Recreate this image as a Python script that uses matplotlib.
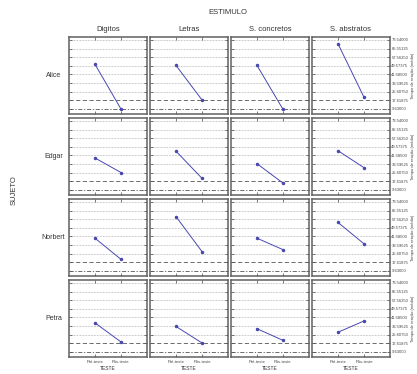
import matplotlib
matplotlib.use("Agg")
import matplotlib.pyplot as plt
import numpy as np

plt.rcParams["font.family"] = ["Liberation Sans", "DejaVu Sans"]

subjects = ["Alice", "Edgar", "Norbert", "Petra"]
stimuli = ["Digitos", "Letras", "S. concretos", "S. abstratos"]
tests = ["Pré-teste", "Pós-teste"]

# values[subject][stimulus] = (pre, post)
alice = [(51.0, 9.6), (50.0, 18.0), (50.0, 9.3), (70.0, 20.5)]
edgar = [(39.3, 25.8), (45.6, 20.4), (34.0, 16.0), (46.0, 30.3)]
norbert = [(40.0, 20.4), (60.0, 27.6), (40.0, 29.4), (54.6, 34.8)]
petra = [(36.6, 18.9), (33.3, 18.0), (31.2, 20.4), (27.9, 38.4)]
values = [alice, edgar, norbert, petra]

yticks = [9.63, 17.61875, 25.6075, 33.59625, 41.585, 49.57375, 57.5625, 65.55125, 73.54]
ytick_labels = ["9.63000", "17.61875", "25.60750", "33.59625", "41.58500",
                "49.57375", "57.56250", "65.55125", "73.54000"]
dash_level = 17.61875
dashdot_level = 9.63

W, H = 417, 374
fig = plt.figure(figsize=(W / 100, H / 100), dpi=100)

col_left = [69, 150, 231, 312]
row_top = [37, 118, 199, 280]
aw, ah = 78, 77

line_col = "#4848b0"
frame_col = "#606060"

for r, subj in enumerate(subjects):
    for c, stim in enumerate(stimuli):
        ax = fig.add_axes([col_left[c] / W, 1 - (row_top[r] + ah) / H, aw / W, ah / H])
        pre, post = values[r][c]
        for yv in yticks:
            if yv in (dash_level, dashdot_level):
                continue
            ax.axhline(yv, color="#999999", lw=0.5, ls=(0, (1, 1.2)), zorder=1)
        ax.axhline(dash_level, color="#555555", lw=0.6, ls=(0, (5, 3)), zorder=2)
        ax.axhline(dashdot_level, color="#555555", lw=0.6, ls=(0, (5, 2, 1.5, 2)), zorder=2)
        ax.plot([0, 1], [pre, post], color=line_col, lw=0.7, marker="o",
                ms=1.5, mfc=line_col, mec=line_col, zorder=3)
        ax.set_xlim(-1, 2)
        ax.set_ylim(5.0, 76.3)
        ax.set_xticks([0, 1])
        ax.set_yticks(yticks)
        ax.tick_params(axis="both", direction="in", length=2, width=0.5,
                       colors="#444444", labelsize=3)
        ax.tick_params(axis="x", top=True, bottom=True)
        ax.tick_params(axis="y", left=True, right=True, labelleft=False,
                       labelright=(c == 3), pad=1)
        if r == 3:
            ax.set_xticklabels(tests, fontsize=3)
            ax.tick_params(axis="x", labelbottom=True, pad=2)
            ax.set_xlabel("TESTE", fontsize=3.5, labelpad=1.5, color="#333333")
        else:
            ax.set_xticklabels([])
        if c == 3:
            ax.set_yticklabels(ytick_labels, fontsize=3)
            ax.yaxis.set_label_position("right")
            ax.set_ylabel("Tempo de reação (média)", fontsize=3, rotation=90,
                          labelpad=2, color="#444444")
        for s in ax.spines.values():
            s.set_color(frame_col)
            s.set_linewidth(1.1)
        if r == 0:
            ax.set_title(stim, fontsize=5.5, pad=4, color="#333333")
        if c == 0:
            ax.text(-0.2, 0.5, subj, transform=ax.transAxes, fontsize=5,
                    ha="center", va="center", color="#333333")

fig.text(228 / W, 1 - 13 / H, "ESTIMULO", fontsize=5.5, ha="center", va="center", color="#333333")
fig.text(14 / W, 1 - 190 / H, "SUJETO", fontsize=5.5, ha="center", va="center",
         rotation=90, color="#333333")

fig.savefig("out.png", dpi=100, facecolor="white")
